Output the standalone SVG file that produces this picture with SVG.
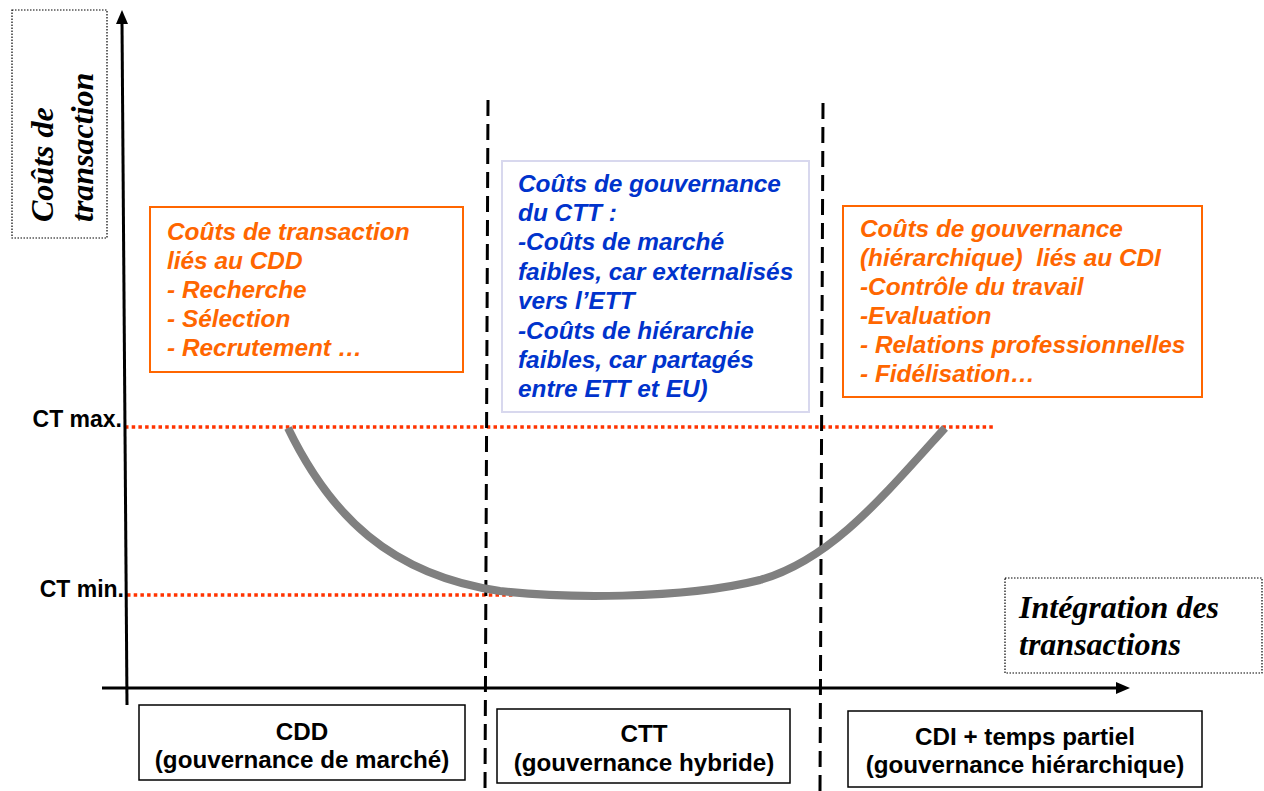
<svg xmlns="http://www.w3.org/2000/svg" width="1264" height="791" viewBox="0 0 1264 791">
<style>
.sans{font-family:"Liberation Sans",Arial,sans-serif;font-weight:bold}
.ser{font-family:"Liberation Serif","Times New Roman",serif;font-weight:bold;font-style:italic;font-size:32px;fill:#000}
.or{fill:#FF6600;font-style:italic;font-size:24.4px}
.bl{fill:#0033CC;font-style:italic;font-size:24.4px}
.blk{fill:#000;font-size:23px}
.bx{fill:#000;font-size:24.2px}
.dot{fill:none;stroke:#000;stroke-width:1.2;stroke-dasharray:1.5 1.5}
.ctl{stroke:#FF3300;stroke-width:3.5;stroke-dasharray:3.5 3.2;fill:none}
.dash{stroke:#000;stroke-width:3;stroke-dasharray:16 8;fill:none}
.ax{stroke:#000;stroke-width:3;fill:none}
</style>
<rect width="1264" height="791" fill="#fff"/>
<g id="connectors">
<line class="ctl" x1="125" y1="427" x2="995" y2="427"/>
<line class="ctl" x1="127" y1="595" x2="515" y2="595"/>
<line class="dash" x1="488" y1="100" x2="485" y2="791"/>
<line class="dash" x1="823" y1="103" x2="820" y2="791"/>
<path id="curve" d="M288,428 C330,515 390,575 500,591 C560,598 680,600 760,580 C830,560 880,500 945,428" fill="none" stroke="#808080" stroke-width="8"/>
<line class="ax" x1="122" y1="22" x2="127" y2="705"/>
<polygon points="122,10 116,24 128,24" fill="#000"/>
<line class="ax" x1="102" y1="688" x2="1117" y2="688"/>
<polygon points="1130,688 1116,682 1116,694" fill="#000"/>
</g>
<g id="ylabel">
<rect class="dot" x="12" y="10" width="95" height="228"/>
<text class="ser" transform="translate(53,222) rotate(-90)">Coûts de</text>
<text class="ser" transform="translate(93,222) rotate(-90)">transaction</text>
</g>
<g id="xlabel">
<rect class="dot" x="1005" y="578" width="257" height="95"/>
<text class="ser" x="1019" y="618">Intégration des</text>
<text class="ser" x="1019" y="655">transactions</text>
</g>
<g id="ctmax"><text class="sans blk" x="122" y="427" text-anchor="end">CT max.</text></g>
<g id="ctmin"><text class="sans blk" x="124" y="597" text-anchor="end">CT min.</text></g>
<g id="box-cdd-costs">
<rect x="150" y="207" width="313" height="165" fill="none" stroke="#FF6600" stroke-width="2"/>
<text class="sans or" x="167" y="240">Coûts de transaction</text>
<text class="sans or" x="167" y="269">liés au CDD</text>
<text class="sans or" x="167" y="298">- Recherche</text>
<text class="sans or" x="167" y="327">- Sélection</text>
<text class="sans or" x="167" y="356">- Recrutement …</text>
</g>
<g id="box-ctt-costs">
<rect x="502" y="161" width="307" height="251" fill="none" stroke="#D8D8EE" stroke-width="2"/>
<text class="sans bl" x="518" y="192">Coûts de gouvernance</text>
<text class="sans bl" x="518" y="221">du CTT :</text>
<text class="sans bl" x="518" y="250">-Coûts de marché</text>
<text class="sans bl" x="518" y="280">faibles, car externalisés</text>
<text class="sans bl" x="518" y="309">vers l’ETT</text>
<text class="sans bl" x="518" y="339">-Coûts de hiérarchie</text>
<text class="sans bl" x="518" y="368">faibles, car partagés</text>
<text class="sans bl" x="518" y="397">entre ETT et EU)</text>
</g>
<g id="box-cdi-costs">
<rect x="843" y="206" width="359" height="191" fill="none" stroke="#FF6600" stroke-width="2"/>
<text class="sans or" x="860" y="237">Coûts de gouvernance</text>
<text class="sans or" x="860" y="266" xml:space="preserve">(hiérarchique)  liés au CDI</text>
<text class="sans or" x="860" y="295">-Contrôle du travail</text>
<text class="sans or" x="860" y="324">-Evaluation</text>
<text class="sans or" x="860" y="353">- Relations professionnelles</text>
<text class="sans or" x="860" y="382">- Fidélisation…</text>
</g>
<g id="box-cdd">
<rect x="139" y="705" width="326" height="75" fill="#fff" stroke="#000" stroke-width="1.5"/>
<text class="sans bx" x="302" y="740" text-anchor="middle">CDD</text>
<text class="sans bx" x="302" y="768" text-anchor="middle">(gouvernance de marché)</text>
</g>
<g id="box-ctt">
<rect x="497" y="709" width="293" height="74" fill="#fff" stroke="#000" stroke-width="1.5"/>
<text class="sans bx" x="644" y="742" text-anchor="middle">CTT</text>
<text class="sans bx" x="644" y="771" text-anchor="middle">(gouvernance hybride)</text>
</g>
<g id="box-cdi">
<rect x="848" y="711" width="354" height="76" fill="#fff" stroke="#000" stroke-width="1.5"/>
<text class="sans bx" x="1025" y="745" text-anchor="middle">CDI + temps partiel</text>
<text class="sans bx" x="1025" y="773" text-anchor="middle">(gouvernance hiérarchique)</text>
</g>
</svg>
